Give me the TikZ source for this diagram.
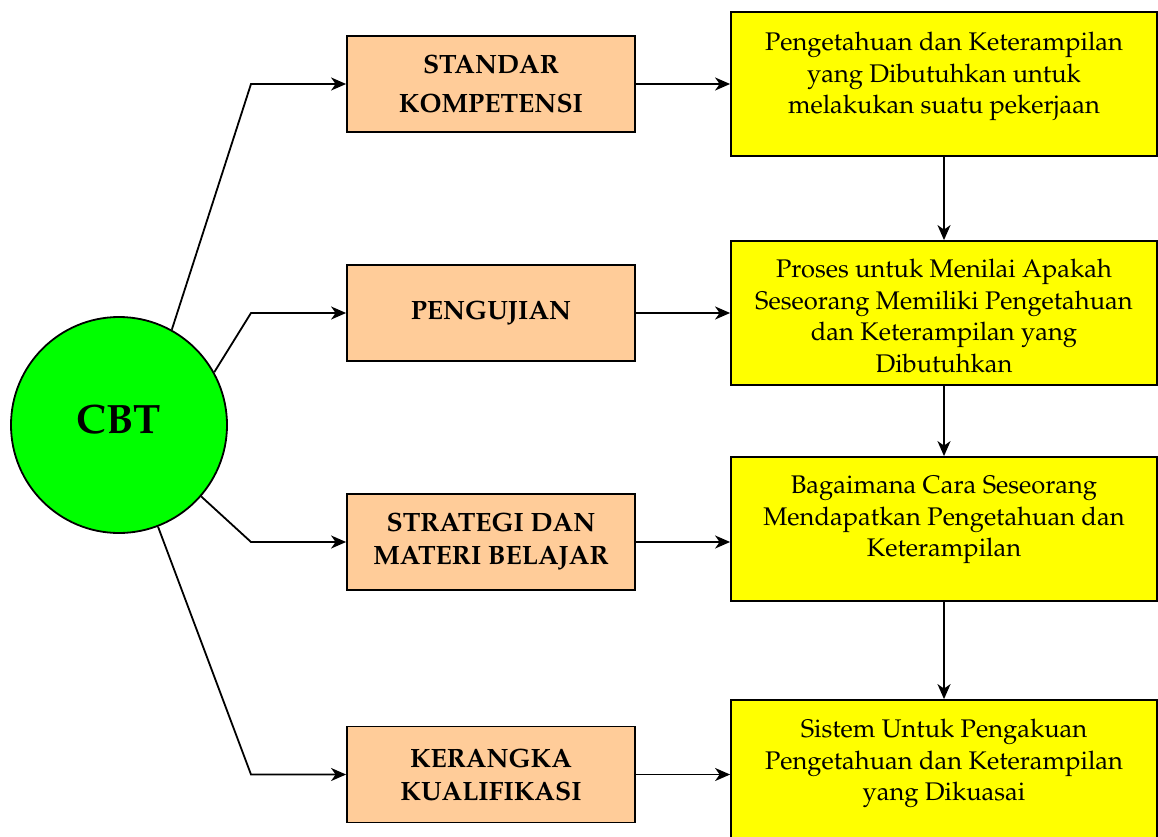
\documentclass[tikz,border=0pt]{standalone}
\usepackage[T1]{fontenc}
\usepackage{mathpazo}
\usetikzlibrary{arrows.meta}
\definecolor{boxorange}{HTML}{FFCC99}
\definecolor{boxyellow}{HTML}{FFFF00}
\definecolor{hubgreen}{HTML}{00FF00}
\tikzset{
  hub/.style={circle, draw=black, line width=1.8pt, fill=hubgreen, minimum size=216pt, inner sep=0pt},
  hublabel/.style={inner sep=0pt, font=\fontsize{41}{46}\selectfont\bfseries},
  obox/.style={rectangle, draw=black, line width=1.8pt, fill=boxorange, minimum width=288pt, minimum height=96pt,
    inner sep=0pt, align=center},
  ybox/.style={rectangle, draw=black, line width=1.8pt, fill=boxyellow, minimum width=426pt, minimum height=144pt,
    inner sep=0pt},
  ytext/.style={anchor=north, inner sep=0pt, align=center, font=\fontsize{25.5}{31.5}\selectfont},
  arr/.style={line width=1.8pt, -{Stealth[length=15pt, width=13pt, inset=4.5pt]}},
}
\begin{document}
\begin{tikzpicture}[x=1pt, y=-1pt]
\useasboundingbox (0,0) rectangle (1158,837);

% central circle
\node[hub] (cbt) at (119,425) {};
\node[hublabel] (cbtlabel) at (119,419) {CBT};

% left column: components
\node[obox, font=\fontsize{26.5}{39}\selectfont\bfseries] (s1) at (491,84) {STANDAR\\KOMPETENSI};
\node[obox, font=\fontsize{26.5}{33}\selectfont\bfseries] (s2) at (491,313) {PENGUJIAN};
\node[obox, font=\fontsize{26.5}{33}\selectfont\bfseries] (s3) at (491,542) {STRATEGI DAN\\MATERI BELAJAR};
\node[obox, font=\fontsize{26.5}{33}\selectfont\bfseries] (s4) at (491,774.5) {KERANGKA\\KUALIFIKASI};

% right column: descriptions
\node[ybox] (y1) at (944,84) {};
\node[ybox] (y2) at (944,313) {};
\node[ybox] (y3) at (944,529) {};
\node[ybox] (y4) at (944,772) {};

\node[ytext] (t1) at ([yshift=-21pt]y1.north) {Pengetahuan dan Keterampilan\\yang Dibutuhkan untuk\\melakukan suatu pekerjaan};
\node[ytext] (t2) at ([yshift=-19pt]y2.north) {Proses untuk Menilai Apakah\\Seseorang Memiliki Pengetahuan\\dan Keterampilan yang\\Dibutuhkan};
\node[ytext] (t3) at ([yshift=-20pt]y3.north) {Bagaimana Cara Seseorang\\Mendapatkan Pengetahuan dan\\Keterampilan};
\node[ytext] (t4) at ([yshift=-20pt]y4.north) {Sistem Untuk Pengakuan\\Pengetahuan dan Keterampilan\\yang Dikuasai};

% bend points of the branches
\coordinate (b1) at (251,84);
\coordinate (b2) at (251,313);
\coordinate (b3) at (251,542);
\coordinate (b4) at (251,774.5);

% branches from the hub
\draw[arr] (cbt.61.8) -- (b1) -- (s1.west);
\draw[arr] (cbt.29.2) -- (b2) -- (s2.west);
\draw[arr] (cbt.-41.3) -- (b3) -- (s3.west);
\draw[arr] (cbt.-69) -- (b4) -- (s4.west);

% components to descriptions
\draw[arr] (s1.east) -- (s1.east -| y1.west);
\draw[arr] (s2.east) -- (s2.east -| y2.west);
\draw[arr] (s3.east) -- (s3.east -| y3.west);
\draw[arr] (s4.east) -- (s4.east -| y4.west);

% chain of descriptions
\draw[arr] (y1.south) -- (y2.north);
\draw[arr] (y2.south) -- (y3.north);
\draw[arr] (y3.south) -- (y4.north);
\end{tikzpicture}
\end{document}
